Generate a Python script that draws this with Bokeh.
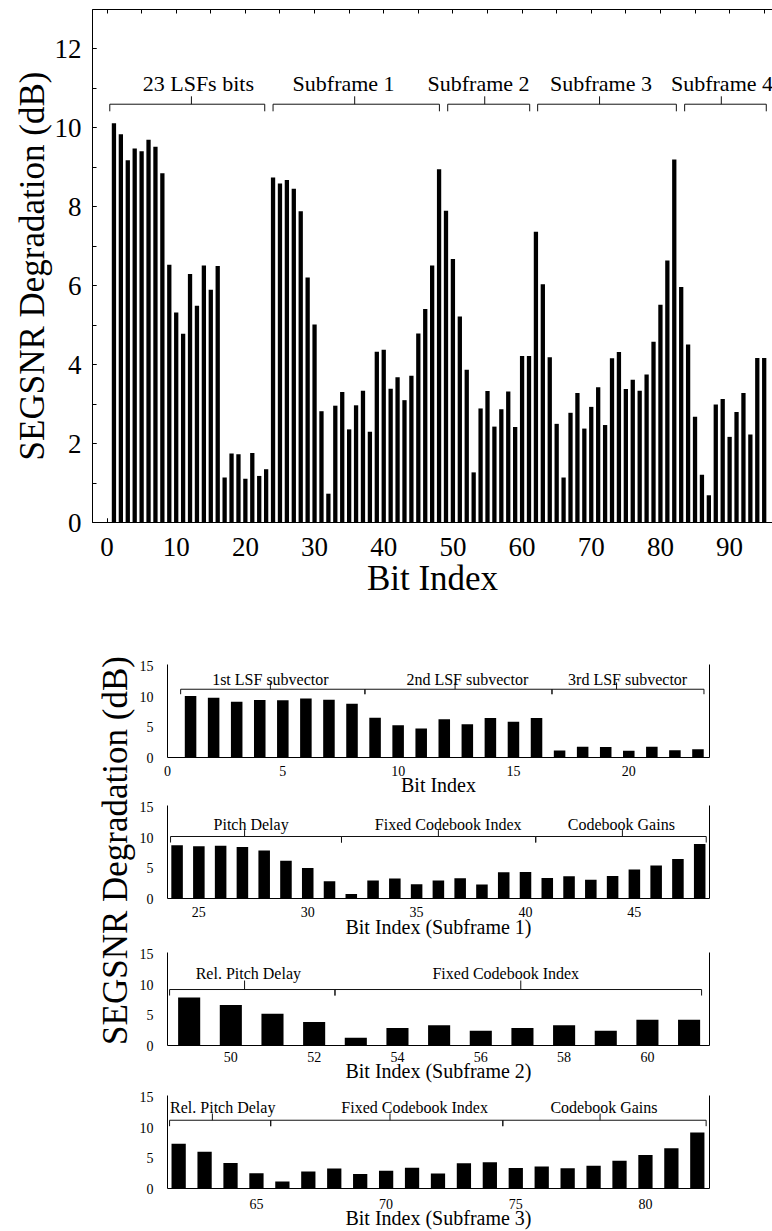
from math import pi

from bokeh.core.properties import value
from bokeh.embed import file_html
from bokeh.layouts import column, row
from bokeh.models import (ColumnDataSource, FixedTicker, Label, LinearAxis,
                          Range1d, SingleIntervalTicker)
from bokeh.plotting import figure
from bokeh.resources import INLINE

SERIF = "Liberation Serif"

# ---------------------------------------------------------------- data
bit_index = list(range(1, 96))
segsnr_degradation = [
    10.12, 9.84, 9.18, 9.48, 9.41, 9.70, 9.52, 8.85, 6.53, 5.32,
    4.78, 6.30, 5.49, 6.51, 5.90, 6.50, 1.14, 1.75, 1.73, 1.11,
    1.76, 1.18, 1.35, 8.74, 8.59, 8.68, 8.46, 7.89, 6.21, 5.02,
    2.82, 0.73, 2.96, 3.31, 2.36, 2.97, 3.34, 2.30, 4.33, 4.38,
    3.39, 3.68, 3.10, 3.72, 4.79, 5.41, 6.51, 8.95, 7.90, 6.68,
    5.22, 3.87, 1.27, 2.89, 3.33, 2.43, 2.87, 3.32, 2.42, 4.22,
    4.22, 7.37, 6.04, 4.19, 2.50, 1.14, 2.78, 3.28, 2.38, 2.93,
    3.43, 2.47, 4.16, 4.32, 3.38, 3.62, 3.34, 3.75, 4.58, 5.52,
    6.64, 9.20, 5.97, 4.51, 2.68, 1.21, 0.69, 2.99, 3.13, 2.17,
    2.80, 3.28, 2.23, 4.17, 4.17,
]

frame_groups = ["23 LSFs bits", "Subframe 1", "Subframe 2", "Subframe 3", "Subframe 4"]
lsf_groups = ["1st LSF subvector", "2nd LSF subvector", "3rd LSF subvector"]
sf1_groups = ["Pitch Delay", "Fixed Codebook Index", "Codebook Gains"]
sf2_groups = ["Rel. Pitch Delay", "Fixed Codebook Index"]
sf3_groups = ["Rel. Pitch Delay", "Fixed Codebook Index", "Codebook Gains"]

source = ColumnDataSource(data=dict(bit=bit_index, db=segsnr_degradation))


def style_axis(ax, tick_size="14px", label_size="14px"):
    ax.axis_line_color = "black"
    ax.axis_line_width = 1
    ax.major_label_text_font = SERIF
    ax.major_label_text_font_size = tick_size
    ax.major_label_text_color = "black"
    ax.axis_label_text_font = SERIF
    ax.axis_label_text_font_style = "normal"
    ax.axis_label_text_font_size = label_size
    ax.axis_label_text_color = "black"
    ax.major_tick_line_color = "black"
    ax.minor_tick_line_color = "black"


def draw_brackets(p, names, spans, mids, label_x, line_y, end_y, mid_y, text_y, size):
    """Horizontal brace over each group of bits with its caption."""
    x0, y0, x1, y1 = [], [], [], []
    for (a, b), m in zip(spans, mids):
        x0 += [a, a, b, m]
        x1 += [b, a, b, m]
        y0 += [line_y] * 4
        y1 += [line_y, end_y, end_y, mid_y]
    p.segment(x0=x0, y0=y0, x1=x1, y1=y1, line_color="#111111", line_width=1)
    p.text(x=label_x, y=[text_y] * len(names), text=names,
           text_font=value(SERIF), text_font_size=size, text_color="black",
           text_align="center", text_baseline="alphabetic")


# ------------------------------------------------------ overview chart
top = figure(width=772, height=620, x_range=Range1d(-2.1, 96.2), y_range=Range1d(0, 13),
             output_backend="svg", toolbar_location=None,
             x_axis_location=None, y_axis_location=None,
             min_border_left=92, min_border_right=0, min_border_top=9, min_border_bottom=98)
top.outline_line_color = None
top.grid.visible = False
top.background_fill_color = "white"

xb = LinearAxis(ticker=SingleIntervalTicker(interval=10, num_minor_ticks=2), axis_label="Bit Index")
style_axis(xb, "27px", "35px")
xb.major_tick_in, xb.major_tick_out = 4, 0
xb.minor_tick_in, xb.minor_tick_out = 4, 0
xb.major_label_standoff = 15
xb.axis_label_standoff = 0
top.add_layout(xb, "below")

# top border: only inward tick marks every 5 bits, no labels
xt = LinearAxis(ticker=FixedTicker(ticks=[], minor_ticks=list(range(0, 100, 5))))
style_axis(xt)
xt.minor_tick_in, xt.minor_tick_out = 4, 0
top.add_layout(xt, "above")

yl = LinearAxis(ticker=SingleIntervalTicker(interval=2, num_minor_ticks=2),
                axis_label="SEGSNR Degradation (dB)")
style_axis(yl, "27px", "35px")
yl.major_tick_in, yl.major_tick_out = 4, 0
yl.minor_tick_in, yl.minor_tick_out = 4, 0
yl.major_label_standoff = 11
yl.axis_label_standoff = 0
top.add_layout(yl, "left")

top.vbar(x="bit", top="db", width=0.62, source=source,
         fill_color="black", line_color=None)

draw_brackets(top, frame_groups,
              spans=[(0.4, 22.8), (24.0, 48.05), (49.25, 61.1), (62.25, 82.3), (83.5, 95.3)],
              mids=[12.2, 35.8, 54.6, 71.2, 88.8],
              label_x=[13.2, 34.2, 53.7, 71.4, 88.9],
              line_y=10.6, end_y=10.42, mid_y=10.8, text_y=11.12, size="22px")


# ------------------------------------------------------ detail panels
CAP_W = 136
PANEL_W = 772 - CAP_W
Y_TOP = 15.3
FRAME_H = 93


def panel(first, last, x_range, ticks, xlabel, bar_w, height, b_top, offsets,
          names, spans, mids, label_x, line_y, end_y, mid_y, text_y):
    p = figure(width=PANEL_W, height=height, x_range=Range1d(*x_range), y_range=Range1d(0, Y_TOP),
               output_backend="svg", toolbar_location=None,
               x_axis_location=None, y_axis_location=None,
               min_border_left=162 - CAP_W, min_border_right=63,
               min_border_top=b_top, min_border_bottom=height - b_top - FRAME_H)
    p.outline_line_color = None
    p.grid.visible = False

    ax = LinearAxis(ticker=FixedTicker(ticks=ticks), axis_label=xlabel)
    style_axis(ax, "14px", "20px")
    ax.major_tick_line_color = None
    ax.minor_tick_line_color = None
    ax.major_label_standoff, ax.axis_label_standoff = offsets
    p.add_layout(ax, "below")

    ay = LinearAxis(ticker=FixedTicker(ticks=[0, 5, 10, 15]))
    style_axis(ay, "14px")
    ay.major_tick_line_color = None
    ay.minor_tick_line_color = None
    ay.major_label_standoff = 8
    p.add_layout(ay, "left")

    # plain right edge line
    ar = LinearAxis(ticker=FixedTicker(ticks=[]))
    style_axis(ar)
    ar.major_tick_line_color = None
    ar.minor_tick_line_color = None
    p.add_layout(ar, "right")

    sub = ColumnDataSource(data=dict(bit=bit_index[first - 1:last],
                                     db=segsnr_degradation[first - 1:last]))
    p.vbar(x="bit", top="db", width=bar_w, source=sub, fill_color="black", line_color=None)
    draw_brackets(p, names, spans, mids, label_x, line_y, end_y, mid_y, text_y, "16px")
    return p


lsf = panel(1, 23, (0, 23.5), [0, 5, 10, 15, 20], "Bit Index", 0.5, 178, 44, (2, -5),
            lsf_groups, [(0.57, 8.56), (8.56, 16.67), (16.67, 23.26)],
            [4.46, 12.47, 19.47], [4.46, 13.0, 19.95], 11.23, 10.41, 12.34, 12.8)

sf1 = panel(24, 48, (23.56, 48.45), [25, 30, 35, 40, 45], "Bit Index (Subframe 1)", 0.53,
            144, 7, (2, -4),
            sf1_groups, [(23.7, 31.55), (31.55, 40.47), (40.47, 48.3)],
            [27.1, 36.0, 44.45], [27.4, 36.45, 44.4], 10.2, 9.21, 11.25, 12.24)

sf2 = panel(49, 61, (48.48, 61.49), [50, 52, 54, 56, 58, 60], "Bit Index (Subframe 2)", 0.53,
            148, 10, (0, -5),
            sf2_groups, [(48.53, 52.5), (52.5, 61.3)],
            [50.33, 56.96], [50.42, 56.6], 9.21, 8.22, 10.69, 11.8)

sf3 = panel(62, 82, (61.57, 82.47), [65, 70, 75, 80], "Bit Index (Subframe 3)", 0.55,
            141, 5, (4, -5),
            sf3_groups, [(61.65, 65.55), (65.55, 74.5), (74.5, 82.34)],
            [63.3, 70.15, 78.25], [63.7, 71.1, 78.4], 11.23, 10.25, 12.34, 13.3)

# shared y caption for the four detail panels
cap = figure(width=CAP_W, height=611, x_range=Range1d(0, CAP_W), y_range=Range1d(0, 611),
             output_backend="svg", toolbar_location=None,
             x_axis_location=None, y_axis_location=None, min_border=0)
cap.outline_line_color = None
cap.grid.visible = False
cap.add_layout(Label(x=115, y=381, text="SEGSNR Degradation (dB)", angle=pi / 2,
                     text_align="center", text_baseline="middle",
                     text_font=SERIF, text_font_size="35px", text_color="black"))

layout = column(top, row(cap, column(lsf, sf1, sf2, sf3)))

open("out.html", "w").write(file_html(layout, INLINE))
